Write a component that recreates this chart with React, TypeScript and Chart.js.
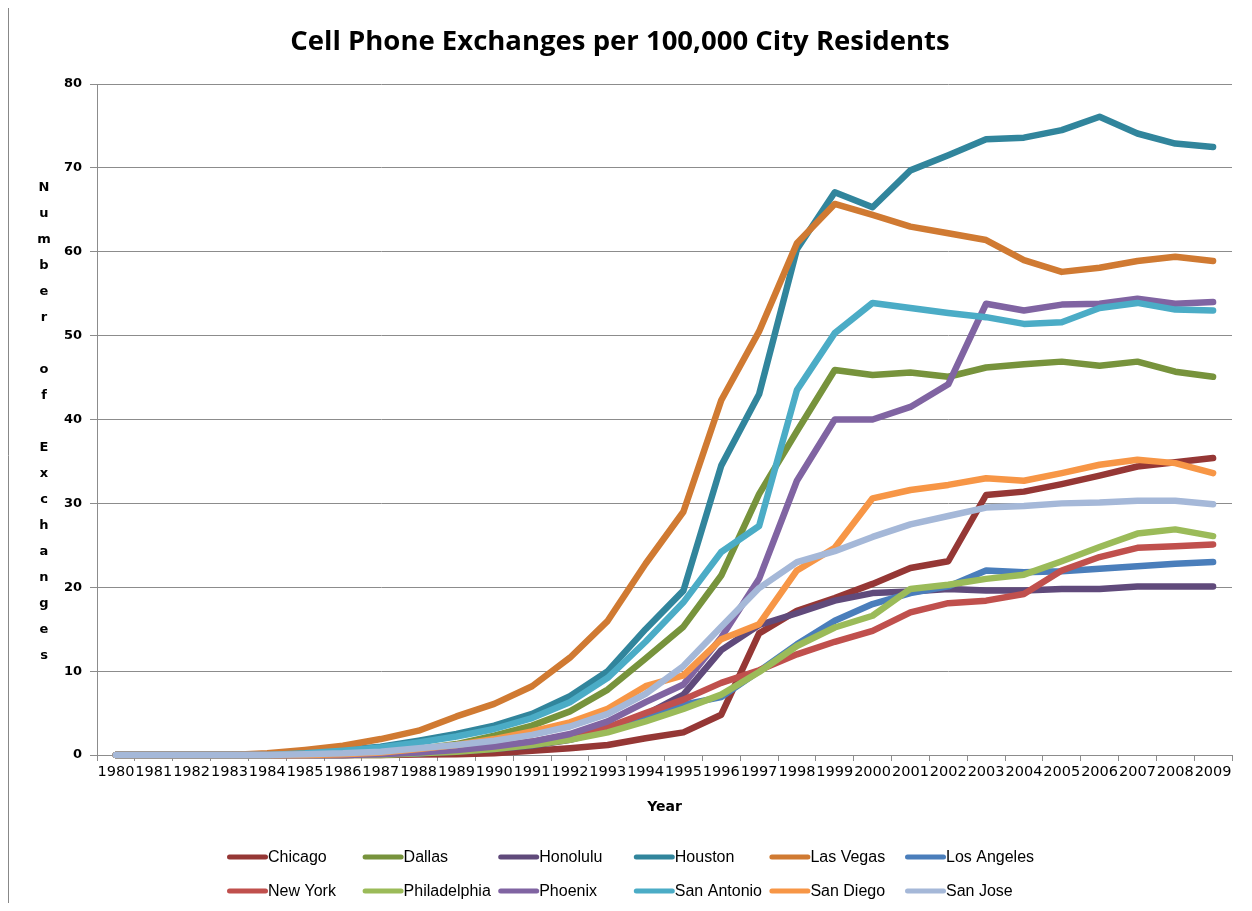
import React, { useEffect, useRef } from 'react';
import { Chart, registerables } from 'chart.js';

Chart.register(...registerables);

const TITLE = 'Cell Phone Exchanges per 100,000 City Residents';
const X_TITLE = 'Year';
const Y_TITLE = 'Number of Exchanges';

const YEARS = [
  '1980', '1981', '1982', '1983', '1984', '1985', '1986', '1987', '1988', '1989',
  '1990', '1991', '1992', '1993', '1994', '1995', '1996', '1997', '1998', '1999',
  '2000', '2001', '2002', '2003', '2004', '2005', '2006', '2007', '2008', '2009',
];

const Y_MIN = 0;
const Y_MAX = 80;
const Y_STEP = 10;

const CITIES = [
  'Chicago', 'Dallas', 'Honolulu', 'Houston', 'Las Vegas', 'Los Angeles',
  'New York', 'Philadelphia', 'Phoenix', 'San Antonio', 'San Diego', 'San Jose',
];

const COLORS = [
  '#953735', '#77933c', '#604a7b', '#31859c', '#d07a32', '#4a7ebb',
  '#c0504d', '#9bbb59', '#8064a2', '#4bacc6', '#f79646', '#a5b8d8',
];

const CHICAGO = [0, 0, 0, 0, 0, 0, 0, 0, 0.05, 0.1, 0.2, 0.5, 0.8, 1.2, 2.0, 2.7, 4.8, 14.5, 17.2, 18.7, 20.4, 22.3, 23.1, 31.0, 31.4, 32.3, 33.3, 34.4, 34.9, 35.4];
const DALLAS = [0, 0, 0, 0, 0, 0.05, 0.15, 0.3, 0.7, 1.3, 2.3, 3.5, 5.2, 7.8, 11.5, 15.3, 21.4, 31.1, 38.6, 45.9, 45.3, 45.6, 45.1, 46.2, 46.6, 46.9, 46.4, 46.9, 45.7, 45.1];
const HONOLULU = [0, 0, 0, 0, 0, 0, 0, 0.1, 0.2, 0.4, 0.7, 1.1, 1.8, 3.0, 4.8, 7.2, 12.5, 15.5, 16.9, 18.4, 19.3, 19.5, 19.8, 19.6, 19.6, 19.8, 19.8, 20.1, 20.1, 20.1];
const HOUSTON = [0, 0, 0, 0, 0, 0.3, 0.6, 1.0, 1.7, 2.5, 3.5, 4.9, 7.0, 10.0, 15.0, 19.6, 34.5, 43.0, 60.3, 67.1, 65.3, 69.7, 71.5, 73.4, 73.6, 74.5, 76.1, 74.1, 72.9, 72.5];
const LAS_VEGAS = [0, 0, 0, 0, 0.2, 0.6, 1.1, 1.9, 2.9, 4.6, 6.1, 8.2, 11.6, 16.0, 22.8, 29.0, 42.3, 50.5, 61.0, 65.7, 64.4, 63.0, 62.2, 61.4, 59.0, 57.6, 58.1, 58.9, 59.4, 58.9];
const LOS_ANGELES = [0, 0, 0, 0, 0, 0, 0, 0.1, 0.2, 0.5, 0.9, 1.4, 2.1, 3.1, 4.5, 6.0, 6.9, 10.0, 13.2, 16.0, 18.0, 19.3, 20.1, 22.0, 21.8, 21.9, 22.2, 22.5, 22.8, 23.0];
const NEW_YORK = [0, 0, 0, 0, 0, 0, 0, 0.1, 0.3, 0.6, 1.0, 1.6, 2.4, 3.3, 5.0, 6.6, 8.6, 10.1, 12.0, 13.5, 14.8, 17.0, 18.1, 18.4, 19.2, 22.0, 23.6, 24.7, 24.9, 25.1];
const PHILADELPHIA = [0, 0, 0, 0, 0, 0, 0, 0, 0.2, 0.4, 0.7, 1.2, 1.8, 2.7, 4.0, 5.5, 7.2, 9.9, 13.0, 15.2, 16.6, 19.8, 20.3, 21.0, 21.5, 23.1, 24.8, 26.4, 26.9, 26.1];
const PHOENIX = [0, 0, 0, 0, 0, 0, 0, 0.1, 0.3, 0.6, 1.0, 1.6, 2.5, 4.0, 6.3, 8.4, 14.0, 21.0, 32.7, 40.0, 40.0, 41.5, 44.2, 53.8, 53.0, 53.7, 53.8, 54.4, 53.8, 54.0];
const SAN_ANTONIO = [0, 0, 0, 0, 0, 0.2, 0.5, 0.9, 1.5, 2.2, 3.1, 4.4, 6.3, 9.2, 13.5, 18.2, 24.2, 27.3, 43.5, 50.3, 53.9, 53.3, 52.7, 52.2, 51.4, 51.6, 53.3, 53.9, 53.1, 53.0];
const SAN_DIEGO = [0, 0, 0, 0, 0, 0, 0.1, 0.3, 0.7, 1.2, 1.9, 2.8, 3.9, 5.5, 8.2, 9.5, 13.8, 15.6, 22.0, 24.7, 30.6, 31.6, 32.2, 33.0, 32.7, 33.6, 34.6, 35.2, 34.8, 33.6];
const SAN_JOSE = [0, 0, 0, 0, 0, 0.1, 0.2, 0.4, 0.8, 1.2, 1.7, 2.4, 3.4, 4.9, 7.3, 10.6, 15.3, 19.9, 23.0, 24.3, 26.0, 27.5, 28.5, 29.5, 29.7, 30.0, 30.1, 30.3, 30.3, 29.9];

const SERIES = [
  CHICAGO, DALLAS, HONOLULU, HOUSTON, LAS_VEGAS, LOS_ANGELES,
  NEW_YORK, PHILADELPHIA, PHOENIX, SAN_ANTONIO, SAN_DIEGO, SAN_JOSE,
];

const CANVAS_W = 1236;
const CANVAS_H = 895;

const AXIS_GRAY = '#8c8c8c';

// Vertical stacked y-axis title (one letter per line)
const yTitlePlugin = {
  id: 'yTitleStacked',
  afterDraw(chart: any) {
    const { ctx, chartArea } = chart;
    const chars = Y_TITLE.split('');
    const lh = 26;
    const cy = (chartArea.top + chartArea.bottom) / 2 + 2;
    ctx.save();
    ctx.font = 'bold 13px "DejaVu Sans"';
    ctx.fillStyle = '#000';
    ctx.textAlign = 'center';
    ctx.textBaseline = 'middle';
    chars.forEach((c, i) => {
      if (c === ' ') return;
      ctx.fillText(c, 36, cy + (i - (chars.length - 1) / 2) * lh);
    });
    ctx.restore();
  },
};

// Excel-like grid legend (6 columns x 2 rows)
const gridLegendPlugin = {
  id: 'gridLegend',
  afterDraw(chart: any) {
    const { ctx } = chart;
    const ds = chart.data.datasets;
    const colX0 = 219;
    const colW = 135.6;
    const rowY = [849, 883];
    ctx.save();
    ctx.font = '16px "Liberation Sans", Arial, sans-serif';
    ctx.textBaseline = 'middle';
    ctx.textAlign = 'left';
    ds.forEach((d: any, i: number) => {
      const col = i % 6;
      const row = Math.floor(i / 6);
      const x = colX0 + col * colW;
      const y = rowY[row];
      ctx.strokeStyle = d.borderColor;
      ctx.lineWidth = 5;
      ctx.lineCap = 'round';
      ctx.beginPath();
      ctx.moveTo(x + 2.5, y);
      ctx.lineTo(x + 38.5, y);
      ctx.stroke();
      ctx.fillStyle = '#000';
      ctx.fillText(d.label, x + 41, y + 1);
    });
    // left border of chart frame
    ctx.strokeStyle = '#888';
    ctx.lineWidth = 1;
    ctx.beginPath();
    ctx.moveTo(0.5, 0);
    ctx.lineTo(0.5, CANVAS_H);
    ctx.stroke();
    ctx.restore();
  },
};

export default function App() {
  const ref = useRef<HTMLCanvasElement | null>(null);

  useEffect(() => {
    if (!ref.current) return;
    Chart.defaults.font.family = '"DejaVu Sans", Verdana, sans-serif';
    const chart = new Chart(ref.current, {
      type: 'line',
      data: {
        labels: YEARS,
        datasets: CITIES.map((name, i) => ({
          label: name,
          data: SERIES[i],
          borderColor: COLORS[i],
          backgroundColor: COLORS[i],
          borderWidth: 6.5,
          borderCapStyle: 'round',
          borderJoinStyle: 'round',
          pointRadius: 0,
          pointHoverRadius: 0,
          tension: 0,
          fill: false,
          order: CITIES.length - 1 - i,
          clip: 8,
        })),
      },
      options: {
        responsive: false,
        animation: false,
        layout: { padding: { top: 0, left: 0, right: 12, bottom: 80 } },
        plugins: {
          legend: { display: false },
          tooltip: { enabled: false },
          title: {
            display: true,
            text: TITLE,
            color: '#000',
            font: { family: '"Open Sans", Lato, sans-serif', size: 27.5, weight: 'bold' },
            padding: { top: 18, bottom: 25 },
          },
        },
        scales: {
          x: {
            type: 'category',
            offset: true,
            grid: {
              display: true,
              offset: true,
              drawOnChartArea: false,
              drawTicks: true,
              tickLength: 6,
              color: AXIS_GRAY,
            },
            border: { display: true, color: AXIS_GRAY, width: 1 },
            ticks: {
              autoSkip: false,
              maxRotation: 0,
              minRotation: 0,
              padding: 3,
              color: '#000',
              font: { size: 14.5 },
            },
            title: {
              display: true,
              text: X_TITLE,
              color: '#000',
              font: { size: 14, weight: 'bold' },
              padding: { top: 0, bottom: 7 },
            },
            afterFit: (scale: any) => {
              scale.height = 68;
            },
          },
          y: {
            min: Y_MIN,
            max: Y_MAX,
            ticks: {
              stepSize: Y_STEP,
              padding: 8,
              color: '#000',
              font: { size: 13, weight: 'bold' },
            },
            grid: {
              color: AXIS_GRAY,
              lineWidth: 1,
              drawTicks: true,
              tickLength: 7,
            },
            border: { display: true, color: AXIS_GRAY, width: 1 },
            afterFit: (scale: any) => {
              scale.width = 89;
            },
          },
        },
      },
      plugins: [yTitlePlugin, gridLegendPlugin],
    } as any);
    return () => chart.destroy();
  }, []);

  return (
    <div style={{ width: CANVAS_W, height: CANVAS_H }}>
      <canvas ref={ref} width={CANVAS_W} height={CANVAS_H} style={{ display: 'block' }} />
    </div>
  );
}
